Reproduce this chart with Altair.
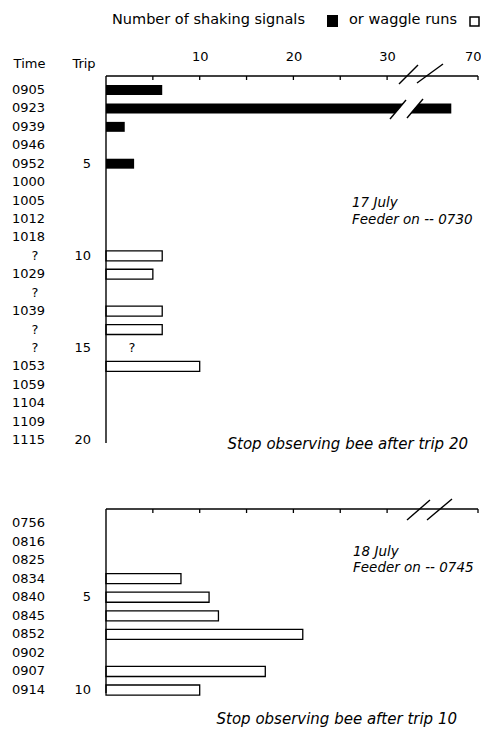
import altair as alt
import pandas as pd

# ---------------- data ----------------
top_trips = list(range(1, 21))
top_times = ["0905", "0923", "0939", "0946", "0952", "1000", "1005", "1012", "1018", "?",
             "1029", "?", "1039", "?", "?", "1053", "1059", "1104", "1109", "1115"]
top_shaking = [6, 67, 2, 0, 3, 0, 0, 0, 0, 0, 0, 0, 0, 0, 0, 0, 0, 0, 0, 0]
top_waggle = [0, 0, 0, 0, 0, 0, 0, 0, 0, 6, 5, 0, 6, 6, 0, 10, 0, 0, 0, 0]
top_unknown_trip = [15]

bot_trips = list(range(1, 11))
bot_times = ["0756", "0816", "0825", "0834", "0840", "0845", "0852", "0902", "0907", "0914"]
bot_waggle = [0, 0, 0, 8, 11, 12, 21, 0, 17, 10]

tick_values = [5, 10, 15, 20, 25, 30, 70]
label_values = [10, 20, 30, 70]

# ---------------- layout ----------------
W, H = 372, 652
PX = 9.37
FONT = "DejaVu Sans"
x_scale = alt.Scale(domain=[0, 34, 64, 70], range=[0, 34 * PX, 34 * PX, W], nice=False, zero=False)
x_axis = alt.Axis(orient="top", values=label_values, ticks=False, domain=False, grid=False,
                  labelFlush=True, labelFlushOffset=3,
                  labelPadding=13, labelFontSize=13, labelFont=FONT, labelColor="black", title=None)
y_top = alt.Scale(domain=[0.24, 20.16], range=[0, 367], nice=False, zero=False)
y_bot = alt.Scale(domain=[0.246, 10.16], range=[433, 617], nice=False, zero=False)

top = pd.DataFrame({"trip": top_trips, "time": top_times, "shaking": top_shaking, "waggle": top_waggle})
bot = pd.DataFrame({"trip": bot_trips, "time": bot_times, "waggle": bot_waggle})
ticks_df = pd.DataFrame({"v": tick_values})

# decorative line segments (pixel positions): axis lines, frame, break slashes
black_segs = pd.DataFrame([
    (0, 0, W, 0), (0, 0, 0, 367),                 # top axis line + left line
    (293, 8, 312, -11), (311, 7, 337, -12),       # top axis break
    (284, 43, 300, 24), (301, 42, 317, 23),       # bar break
    (0, 433, W, 433), (0, 433, 0, 617),           # bottom axis line + left line
    (301, 444, 324, 424), (321, 444, 346, 423),   # bottom axis break
], columns=["x1", "y1", "x2", "y2"])
white_segs = pd.DataFrame([
    (302, 7.5, 324.5, -11.5),
    (292.5, 42.5, 308.5, 23.5),
    (311, 444, 335, 423.5),
], columns=["x1", "y1", "x2", "y2"])


def X(field):
    return alt.X(field, scale=x_scale, axis=x_axis)


def bars(df, field, yscale, filled):
    mark = (alt.Chart(df).mark_rect(color="black") if filled else
            alt.Chart(df).mark_rect(fill="white", stroke="black", strokeWidth=1.3))
    return mark.transform_filter(f"datum.{field} > 0").transform_calculate(
        lo="datum.trip - 0.27", hi="datum.trip + 0.27", x0="0"
    ).encode(x=X("x0:Q"), x2=f"{field}:Q",
             y=alt.Y("lo:Q", scale=yscale, axis=None), y2="hi:Q")


def segs(df, color, w):
    return alt.Chart(df).mark_rule(color=color, strokeWidth=w).encode(
        x=alt.X("x1:Q", scale=None, axis=None), x2="x2:Q",
        y=alt.Y("y1:Q", scale=None, axis=None), y2="y2:Q")


def txt(s, x, y, size=13, align="left", italic=False, baseline="middle"):
    return alt.Chart(pd.DataFrame({"t": [s]})).mark_text(
        align=align, baseline=baseline, fontSize=size, font=FONT, color="black",
        fontStyle="italic" if italic else "normal").encode(
        x=alt.value(x), y=alt.value(y), text="t:N")


def labels(df, yscale):
    base = alt.Chart(df)
    times = base.transform_filter("datum.time != '?'").mark_text(
        align="right", baseline="middle", fontSize=13, font=FONT, color="black").encode(
        x=alt.value(-61), y=alt.Y("trip:Q", scale=yscale, axis=None), text="time:N")
    qs = base.transform_filter("datum.time == '?'").mark_text(
        align="center", baseline="middle", fontSize=13, font=FONT, color="black").encode(
        x=alt.value(-71), y=alt.Y("trip:Q", scale=yscale, axis=None), text="time:N")
    trips = base.transform_filter("datum.trip % 5 == 0").mark_text(
        align="right", baseline="middle", fontSize=13, font=FONT, color="black").encode(
        x=alt.value(-15), y=alt.Y("trip:Q", scale=yscale, axis=None), text="trip:N")
    return [times, qs, trips]


def tick_marks(y0):
    return alt.Chart(ticks_df).mark_rule(color="black", strokeWidth=1.3).encode(
        x=X("v:Q"), y=alt.value(y0), y2=alt.value(y0 + 4))


layers = []
# legend header
layers += [txt("Number of shaking signals", 6, -56, size=14.5),
           alt.Chart(pd.DataFrame({"a": [0]})).mark_rect(color="black").encode(
               x=alt.value(221), x2=alt.value(232), y=alt.value(-61), y2=alt.value(-49)),
           txt("or waggle runs", 243, -56, size=14.5),
           alt.Chart(pd.DataFrame({"a": [0]})).mark_rect(fill="white", stroke="black", strokeWidth=1.5).encode(
               x=alt.value(364), x2=alt.value(373), y=alt.value(-59), y2=alt.value(-50)),
           txt("Time", -76.5, -8, align="center", baseline="alphabetic"),
           txt("Trip", -22, -8, align="center", baseline="alphabetic")]

# bars
layers += [bars(top, "shaking", y_top, True), bars(top, "waggle", y_top, False),
           bars(bot, "waggle", y_bot, False)]
# lines, ticks, breaks
layers += [segs(white_segs, "white", 12), segs(black_segs, "black", 1.4),
           tick_marks(0), tick_marks(433)]
# row labels
layers += labels(top, y_top) + labels(bot, y_bot)
layers += [alt.Chart(pd.DataFrame({"trip": top_unknown_trip, "t": ["?"]})).mark_text(
    align="center", baseline="middle", fontSize=13, font=FONT, color="black").encode(
    x=alt.value(26), y=alt.Y("trip:Q", scale=y_top, axis=None), text="t:N")]
# notes
layers += [txt("17 July", 246, 127, size=13.5, italic=True),
           txt("Feeder on -- 0730", 246, 144, size=13.5, italic=True),
           txt("Stop observing bee after trip 20", 362, 368, size=15, italic=True, align="right"),
           txt("18 July", 247, 476, size=13.5, italic=True),
           txt("Feeder on -- 0745", 247, 492, size=13.5, italic=True),
           txt("Stop observing bee after trip 10", 351, 648, size=15, italic=True, align="right",
               baseline="alphabetic")]

chart = alt.layer(*layers).resolve_scale(y="independent").properties(
    width=W, height=H,
    padding={"left": 98, "top": 68, "right": 3, "bottom": 0},
    autosize=alt.AutoSizeParams(type="none"),
    background="white",
).configure_view(stroke=None)

chart.save("out.html", embed_options={"renderer": "svg", "actions": False})
